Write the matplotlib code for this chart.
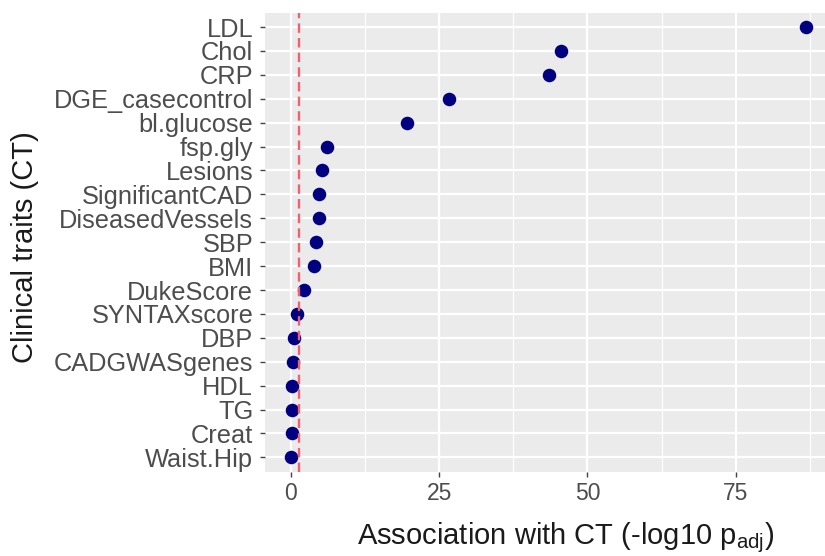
import matplotlib
matplotlib.use("Agg")
import matplotlib.pyplot as plt
from matplotlib.ticker import MultipleLocator

traits = ["LDL", "Chol", "CRP", "DGE_casecontrol", "bl.glucose", "fsp.gly", "Lesions",
          "SignificantCAD", "DiseasedVessels", "SBP", "BMI", "DukeScore", "SYNTAXscore",
          "DBP", "CADGWASgenes", "HDL", "TG", "Creat", "Waist.Hip"]
values = [86.8, 45.5, 43.5, 26.6, 19.5, 6.0, 5.3, 4.8, 4.8, 4.3, 3.8, 2.2, 1.1,
          0.45, 0.35, 0.2, 0.2, 0.1, 0.02]
threshold = 1.301
xticks = [0, 25, 50, 75]

plt.rcParams['font.family'] = ['Liberation Sans', 'DejaVu Sans']
plt.rcParams['mathtext.fontset'] = 'custom'
plt.rcParams['mathtext.rm'] = 'Liberation Sans'
plt.rcParams['mathtext.it'] = 'Liberation Sans'

fig = plt.figure(figsize=(8.25, 5.56), dpi=100)
ax = fig.add_axes([265/825, 84.3/556, (832.7-265)/825, 459/556])
ax.set_facecolor('#EBEBEB')

n = len(traits)
ypos = [n - 1 - i for i in range(n)]

ax.scatter(values, ypos, s=95, color='#000080', zorder=3, linewidths=0)
ax.axvline(threshold, color='#F06070', linestyle=(0, (4, 2.2)), linewidth=1.7, zorder=4)

ax.set_xlim(-4.38, 91.35)
ax.set_ylim(-0.6, n - 1 + 0.6)
ax.set_yticks(ypos)
ax.set_yticklabels(traits)
ax.set_xticks(xticks)
ax.xaxis.set_minor_locator(MultipleLocator(12.5))

ax.grid(which='major', color='white', linewidth=1.6, zorder=0)
ax.grid(which='minor', axis='x', color='white', linewidth=0.8, zorder=0)
ax.set_axisbelow(True)
for s in ax.spines.values():
    s.set_visible(False)

ax.tick_params(axis='both', which='major', length=3.5, width=1, color='#444444',
               labelcolor='#4D4D4D')
ax.tick_params(axis='y', which='major', labelsize=18.3, pad=5)
ax.tick_params(axis='x', which='major', labelsize=16.5, pad=4)
ax.tick_params(axis='x', which='minor', length=0)

fig.text(566/825, (556-544)/556, r"Association with CT (-log10 p$_\mathregular{adj}$)",
         ha='center', va='baseline', fontsize=21, color='#1A1A1A')
fig.text(25/825, (556-247.5)/556, "Clinical traits (CT)", rotation=90,
         ha='center', va='center', fontsize=21, color='#1A1A1A')

fig.savefig("out.png", dpi=100)
